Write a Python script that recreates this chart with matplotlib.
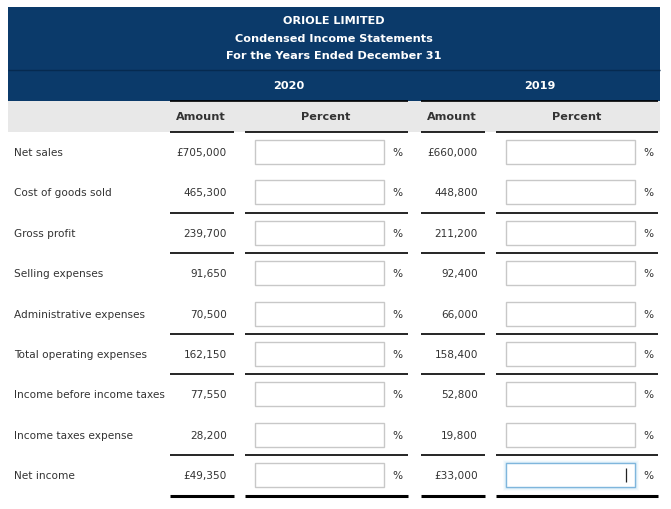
#Condensed income statement worksheet (Oriole Limited)
#draws the table as a picture with matplotlib

import matplotlib.pyplot as plt
from matplotlib.patches import Rectangle

#data
title_lines = ["ORIOLE LIMITED", "Condensed Income Statements", "For the Years Ended December 31"]
years = ["2020", "2019"]
col_heads = ["Amount", "Percent", "Amount", "Percent"]
row_labels = ["Net sales", "Cost of goods sold", "Gross profit", "Selling expenses",
              "Administrative expenses", "Total operating expenses",
              "Income before income taxes", "Income taxes expense", "Net income"]
amount_2020 = [705000, 465300, 239700, 91650, 70500, 162150, 77550, 28200, 49350]
amount_2019 = [660000, 448800, 211200, 92400, 66000, 158400, 52800, 19800, 33000]
currency_rows = [0, 8]          # rows shown with the £ sign
underlined_rows = [1, 2, 4, 5, 7, 8]

#colours
navy = "#0b3a6a"
band = "#e8e8e8"
txt = "#333333"

fig = plt.figure(figsize=(6.71, 5.10), dpi=100)
ax = fig.add_axes([0, 0, 1, 1])
ax.set_xlim(0, 671)
ax.set_ylim(510, 0)
ax.axis("off")

body = dict(family="DejaVu Sans", fontsize=7.6, color=txt)
head = dict(family="DejaVu Sans", fontsize=8.1, fontweight="bold")

#dark header
ax.add_patch(Rectangle((8, 8), 652, 93.5, color=navy, lw=0))
ax.hlines(71, 8, 660, color="#062a50", lw=1)
for i, line in enumerate(title_lines):
    ax.text(334, 21 + i * 17.5, line, color="white", ha="center", va="center", **head)
for x, yr in zip([289, 540], years):
    ax.text(x, 86, yr, color="white", ha="center", va="center", **head)

#grey sub header
ax.add_patch(Rectangle((8, 101.5), 652, 31.5, color=band, lw=0))
ax.hlines([102, 102], [170, 421], [408, 658], color="black", lw=1.2)
for x, h in zip([201, 326, 452, 577], col_heads):
    ax.text(x, 117, h, color=txt, ha="center", va="center", **head)

seg_start = [170, 245, 421, 496]
seg_end = [234, 408, 485, 658]
ax.hlines([133] * 4, seg_start, seg_end, color="black", lw=1.2)

def fmt(v, i):
    s = f"{v:,}"
    return "£" + s if i in currency_rows else s

row_y = [153 + 40.4 * i for i in range(len(row_labels))]

for i, (lab, a20, a19) in enumerate(zip(row_labels, amount_2020, amount_2019)):
    y = row_y[i]
    ax.text(14, y, lab, ha="left", va="center", **body)
    ax.text(227, y, fmt(a20, i), ha="right", va="center", **body)
    ax.text(478, y, fmt(a19, i), ha="right", va="center", **body)
    for bx in [255, 506]:
        active = (i == len(row_labels) - 1 and bx == 506)
        if active:
            for k, a in [(5, 0.08), (3.5, 0.12), (2, 0.2)]:
                ax.add_patch(Rectangle((bx, y - 12), 129, 24, fill=False,
                                       ec="#9fd4f2", lw=k, alpha=a))
            ax.add_patch(Rectangle((bx, y - 12), 129, 24, fc="white", ec="#7fb6dc", lw=1))
            ax.vlines(626, y - 7, y + 7, color="#222222", lw=0.9)
        else:
            ax.add_patch(Rectangle((bx, y - 12), 129, 24, fc="white", ec="#c8c8c8", lw=1))
        ax.text(bx + 142, y, "%", ha="center", va="center", **body)
    if i in underlined_rows:
        thick = 2.2 if i == len(row_labels) - 1 else 1.2
        ax.hlines([y + 20.4] * 4, seg_start, seg_end, color="black", lw=thick)

fig.savefig("out.png", dpi=100)
